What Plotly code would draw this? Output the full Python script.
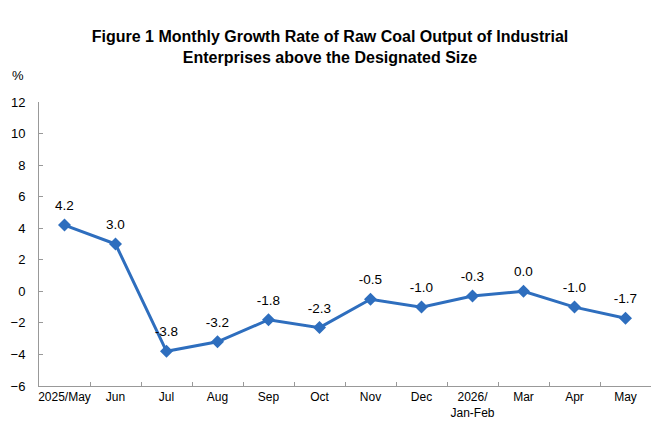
import plotly.graph_objects as go

categories = ["2025/May", "Jun", "Jul", "Aug", "Sep", "Oct", "Nov", "Dec",
              "2026/<br>Jan-Feb", "Mar", "Apr", "May"]
values = [4.2, 3.0, -3.8, -3.2, -1.8, -2.3, -0.5, -1.0, -0.3, 0.0, -1.0, -1.7]
y_ticks = [-6, -4, -2, 0, 2, 4, 6, 8, 10, 12]
title_text = "Figure 1 Monthly Growth Rate of Raw Coal Output of Industrial<br>Enterprises above the Designated Size"

fig = go.Figure()
fig.add_trace(go.Scatter(
    x=categories, y=values, mode="lines+markers",
    line=dict(color="#2E6EBE", width=3),
    marker=dict(symbol="diamond", size=10, color="#2E6EBE"),
    cliponaxis=False, hoverinfo="x+y",
))
fig.add_trace(go.Scatter(
    x=categories, y=values, mode="markers+text",
    marker=dict(size=17, opacity=0),
    text=[f"{v:.1f}" for v in values], textposition="top center",
    textfont=dict(family="Liberation Sans, Arial", size=13.5, color="#000"),
    cliponaxis=False, hoverinfo="skip",
))

fig.update_layout(
    width=660, height=440,
    margin=dict(l=39, r=9, t=102, b=54, autoexpand=False),
    paper_bgcolor="white", plot_bgcolor="white",
    showlegend=False,
    font=dict(family="Liberation Sans, Arial", size=12, color="#000"),
    title=dict(text=title_text, x=0.5, xanchor="center", y=0.905, yanchor="top",
               font=dict(family="Liberation Sans, Arial", size=16, color="#000", weight="bold")),
    annotations=[dict(text="%", xref="paper", yref="paper", x=-0.035, y=1.095,
                      xanchor="center", yanchor="middle", showarrow=False,
                      font=dict(size=13))],
)
fig.update_xaxes(
    type="category", showline=True, linecolor="#999", linewidth=1,
    ticks="inside", ticklen=4, tickcolor="#999", tickson="boundaries",
    showgrid=False, tickfont=dict(size=12), range=[-0.5, 11.5],
    tickangle=0, automargin=False,
)
fig.update_yaxes(
    range=[-6, 12], tickvals=y_ticks, showline=True, linecolor="#999", linewidth=1,
    ticks="inside", ticklen=4, tickcolor="#999", showgrid=False, zeroline=False,
    tickfont=dict(size=13), ticklabelstandoff=10, automargin=False,
)

fig.write_html("out.html")
